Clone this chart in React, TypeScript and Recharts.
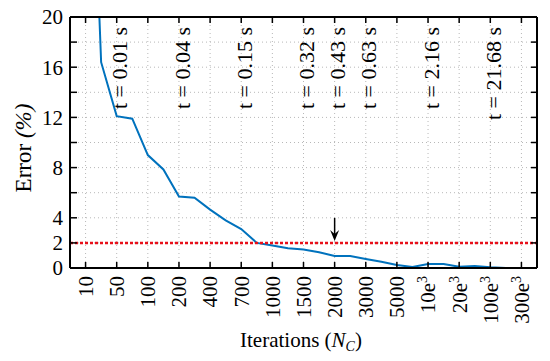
import { CartesianGrid, Line, LineChart, ReferenceDot, ReferenceLine, XAxis, YAxis } from 'recharts';

const FONT = "'Liberation Serif', 'Times New Roman', Times, serif";
const txt = { fontFamily: FONT };

// x axis categories (iteration counts), placed at index positions 0..14
const iterLabels = ['10', '50', '100', '200', '400', '700', '1000', '1500', '2000', '3000', '5000', '10e3', '20e3', '100e3', '300e3'];
const tickPos = iterLabels.map((_, i) => i);

// error curve, sampled at every half step of the axis
const samplePos = [0, 0.5, 1, 1.5, 2, 2.5, 3, 3.5, 4, 4.5, 5, 5.5, 6, 6.5, 7, 7.5, 8, 8.5, 9, 9.5, 10, 10.5, 11, 11.5, 12, 12.5, 13, 13.5, 14];
const errorPct = [48.5, 16.4, 12.1, 11.9, 9.0, 7.85, 5.7, 5.6, 4.65, 3.8, 3.1, 2.0, 1.8, 1.57, 1.48, 1.25, 0.96, 0.96, 0.72, 0.5, 0.24, 0.08, 0.32, 0.32, 0.1, 0.16, 0.06, 0, 0];

const yTicks = [0, 2, 4, 6, 8, 10, 12, 14, 16, 18, 20];
const yShown = [0, 2, 4, 8, 12, 16, 20];

// run time annotations
const timeAt = [1, 3, 5, 7, 8, 9, 11, 13];
const timeText = ['t = 0.01 s', 't = 0.04 s', 't = 0.15 s', 't = 0.32 s', 't = 0.43 s', 't = 0.63 s', 't = 2.16 s', 't = 21.68 s'];

const thresholdPct = 2;
const arrowAt = 8;

const data = samplePos.map((x, k) => ({ x, err: errorPct[k] }));

const BottomTick = (props: any) => {
  const { x, y, payload } = props;
  const label = iterLabels[payload.value] ?? '';
  const [base, exp] = label.split('e');
  const ly = y + 8;
  return (
    <g>
      <line x1={x} y1={y} x2={x} y2={y - 6} stroke='#000' strokeWidth={1.5} />
      <text x={x} y={ly} transform={`rotate(-90, ${x}, ${ly})`} textAnchor='end' dy='0.35em' fontSize={21} style={txt} fill='#000'>
        {base}
        {exp !== undefined && (
          <>
            e<tspan dy={-8} fontSize={14}>{exp}</tspan>
          </>
        )}
      </text>
    </g>
  );
};

const TopTick = ({ x, y }: any) => <line x1={x} y1={y} x2={x} y2={y + 6} stroke='#000' strokeWidth={1.5} />;

const LeftTick = ({ x, y, payload }: any) => (
  <g>
    <line x1={x} y1={y} x2={x + 7} y2={y} stroke='#000' strokeWidth={1.5} />
    {yShown.includes(payload.value) && (
      <text x={x - 7} y={y} dy='0.35em' textAnchor='end' fontSize={21} style={txt} fill='#000'>
        {payload.value}
      </text>
    )}
  </g>
);

const RightTick = ({ x, y }: any) => <line x1={x} y1={y} x2={x - 6} y2={y} stroke='#000' strokeWidth={1.5} />;

const ArrowMark = ({ cx, cy }: any) => (
  <g>
    <line x1={cx} y1={cy - 25} x2={cx} y2={cy - 6} stroke='#000' strokeWidth={1.5} />
    <path d={`M${cx - 4.5},${cy - 13} L${cx},${cy - 2} L${cx + 4.5},${cy - 13} L${cx},${cy - 9} Z`} fill='#000' />
  </g>
);

const TimeTag = ({ cx, cy, text }: any) => {
  const tx = cx + 3;
  const ty = cy + 10;
  return (
    <text x={tx} y={ty} transform={`rotate(-90, ${tx}, ${ty})`} textAnchor='end' dy='0.35em' fontSize={22} style={txt} fill='#000'>
      {text}
    </text>
  );
};

const App = () => (
  <div style={{ position: 'absolute', left: 0, top: 0, width: 550, height: 361, background: '#fff', fontFamily: FONT }}>
    <LineChart width={550} height={361} data={data} margin={{ top: 16, right: 12, bottom: 0, left: 0 }} style={txt}>
      <CartesianGrid stroke='#b8b8b8' strokeDasharray='1 3' />
      <XAxis
        dataKey='x'
        type='number'
        domain={[-0.5, 14.5]}
        ticks={tickPos}
        interval={0}
        height={93}
        tickSize={0}
        tickMargin={0}
        tickLine={false}
        axisLine={{ stroke: '#000', strokeWidth: 2 }}
        tick={<BottomTick />}
      />
      <XAxis
        xAxisId='top'
        orientation='top'
        dataKey='x'
        type='number'
        domain={[-0.5, 14.5]}
        ticks={tickPos}
        interval={0}
        height={1}
        tickSize={0}
        tickMargin={0}
        tickLine={false}
        axisLine={{ stroke: '#000', strokeWidth: 2 }}
        tick={<TopTick />}
      />
      <YAxis
        type='number'
        domain={[0, 20]}
        ticks={yTicks}
        interval={0}
        allowDataOverflow
        width={70}
        tickSize={0}
        tickMargin={0}
        tickLine={false}
        axisLine={{ stroke: '#000', strokeWidth: 2 }}
        tick={<LeftTick />}
      />
      <YAxis
        yAxisId='right'
        orientation='right'
        type='number'
        domain={[0, 20]}
        ticks={yTicks}
        interval={0}
        allowDataOverflow
        width={1}
        tickSize={0}
        tickMargin={0}
        tickLine={false}
        axisLine={{ stroke: '#000', strokeWidth: 2 }}
        tick={<RightTick />}
      />
      <Line
        type='linear'
        dataKey='err'
        stroke='#0072BD'
        strokeWidth={2}
        dot={false}
        activeDot={false}
        isAnimationActive={false}
      />
      <ReferenceLine y={thresholdPct} stroke='#e8101a' strokeWidth={2.5} strokeDasharray='3 2' />
      <ReferenceDot x={arrowAt} y={thresholdPct} ifOverflow='visible' shape={(p: any) => <ArrowMark cx={p.cx} cy={p.cy} />} />
      {timeAt.map((pos, k) => (
        <ReferenceDot
          key={`t-${k}`}
          x={pos}
          y={20}
          ifOverflow='visible'
          shape={(p: any) => <TimeTag cx={p.cx} cy={p.cy} text={timeText[k]} />}
        />
      ))}
    </LineChart>
    <svg width={550} height={361} style={{ position: 'absolute', left: 0, top: 0, pointerEvents: 'none' }}>
      <text x={301} y={347} textAnchor='middle' fontSize={21} style={txt} fill='#000'>
        Iterations (<tspan fontStyle='italic'>N</tspan>
        <tspan fontStyle='italic' fontSize={14} dy={4}>C</tspan>
        <tspan dy={-4}>)</tspan>
      </text>
      <text x={31} y={148} transform='rotate(-90, 31, 148)' textAnchor='middle' fontSize={23} style={txt} fill='#000'>
        Error <tspan fontStyle='italic'>(%)</tspan>
      </text>
    </svg>
  </div>
);

export default App;
